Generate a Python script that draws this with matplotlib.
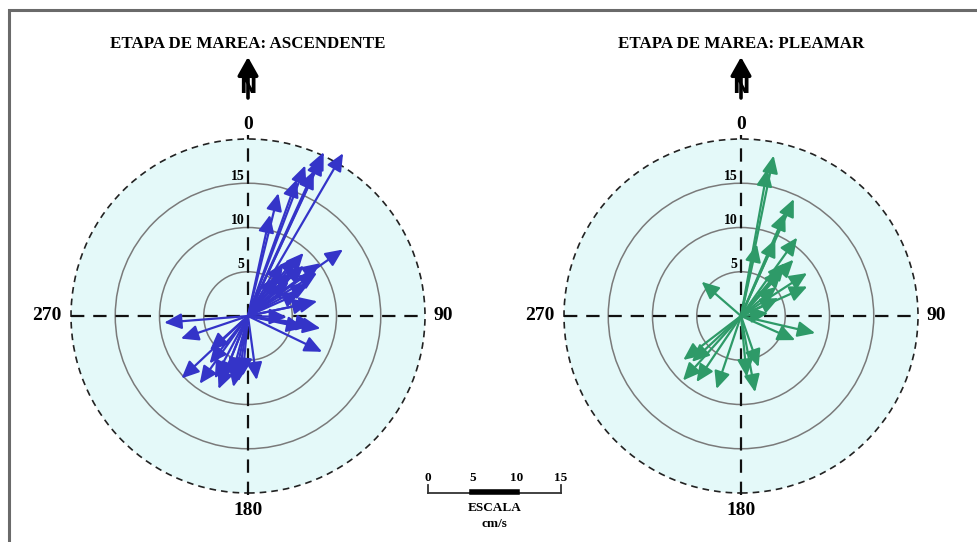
import numpy as np
import matplotlib
matplotlib.use("Agg")
import matplotlib.pyplot as plt
from matplotlib.patches import Circle, Rectangle

# ---------------- data ----------------
titles = ["ETAPA DE MAREA: ASCENDENTE", "ETAPA DE MAREA: PLEAMAR"]
ring_values = [5, 10, 15]
outer_ring = 20
compass_labels = ["0", "90", "180", "270"]
scale_ticks = [0, 5, 10, 15]
scale_title = "ESCALA"
scale_units = "cm/s"

# direction (deg from N, clockwise) and speed (cm/s)
asc_dir = [30.3, 24.8, 25.0, 24.4, 20.8, 19.7, 13.9, 12.3,
           55.0, 41.4, 39.4, 53.8, 33.8, 58.0, 78.0, 48.0, 45.0, 62.0, 36.0, 50.0, 66.0,
           99.7, 97.8, 115.8, 91.5, 78.0, 102.0,
           265.5, 251.4, 226.8, 215.5, 228.0, 202.0, 219.0, 191.7, 188.4, 172.3,
           202.0, 195.0, 185.0, 208.0]
asc_spd = [21.3, 20.4, 19.8, 18.0, 18.2, 16.4, 14.3, 11.7,
           13.1, 9.5, 8.7, 10.1, 7.2, 9.2, 8.0, 8.5, 7.0, 7.8, 5.5, 6.0, 6.5,
           8.3, 7.5, 9.3, 4.4, 7.2, 6.5,
           9.5, 8.0, 10.3, 9.4, 5.8, 8.9, 6.9, 8.2, 7.5, 7.3,
           7.8, 7.0, 6.8, 8.0]

plea_dir = [11.5, 10.2, 12.5, 24.3, 23.2, 24.1, 35.6, 43.0, 39.9, 41.5,
            57.0, 66.0, 50.6, 64.6, 311.0, 84.0, 103.0, 114.0,
            232.7, 227.0, 222.0, 214.0, 198.6, 174.6, 169.5, 161.0]
plea_spd = [18.5, 16.9, 8.3, 14.5, 12.7, 9.5, 10.9, 8.7, 7.8, 7.0,
            8.9, 8.2, 5.2, 4.7, 5.9, 3.1, 8.6, 6.7,
            8.2, 7.6, 9.8, 9.0, 8.7, 6.9, 8.75, 6.1]

colors = ["#3434c8", "#2e9a68"]

# ---------------- figure ----------------
W, H = 977, 542
fig = plt.figure(figsize=(W / 100, H / 100), dpi=100)
SERIF = "Liberation Serif"

PX_PER_UNIT = 177 / outer_ring
HALF_PX = 200
half_u = HALF_PX / PX_PER_UNIT

# outer frame
fig.patches.append(Rectangle((9 / W, -0.1), 2.0, (H - 10) / H + 0.1,
                             transform=fig.transFigure, fill=False,
                             edgecolor="#6a6a6a", lw=2.2, zorder=0))

centers = [(248, 316), (741, 316)]
datasets = [(asc_dir, asc_spd), (plea_dir, plea_spd)]

for k, ((cx, cy), (dirs, spds)) in enumerate(zip(centers, datasets)):
    ax = fig.add_axes([(cx - HALF_PX) / W, (H - cy - HALF_PX) / H,
                       2 * HALF_PX / W, 2 * HALF_PX / H])
    ax.set_xlim(-half_u, half_u)
    ax.set_ylim(-half_u, half_u)
    ax.axis("off")

    ax.add_patch(Circle((0, 0), outer_ring, facecolor="#e4f9f9",
                        edgecolor="none", zorder=0))
    for r in ring_values:
        ax.add_patch(Circle((0, 0), r, fill=False, edgecolor="#7a7a7a",
                            lw=1.1, zorder=1))
        ax.text(-0.4, r + 0.05, str(r), ha="right", va="bottom",
                fontsize=10, fontweight="bold", family=SERIF, zorder=2)
    ax.add_patch(Circle((0, 0), outer_ring, fill=False, edgecolor="#222222",
                        lw=1.2, ls=(0, (4, 3)), zorder=1))
    ax.plot([0, 0], [-outer_ring - 0.2, outer_ring + 0.4], color="#111111",
            lw=1.6, ls=(0, (6, 4)), zorder=1)
    ax.plot([-outer_ring, outer_ring], [0, 0], color="#111111",
            lw=1.6, ls=(0, (6, 4)), zorder=1)

    # compass labels
    ax.text(0, outer_ring + 0.7, compass_labels[0], ha="center", va="bottom",
            fontsize=14, fontweight="bold", family=SERIF, clip_on=False)
    ax.text(outer_ring + 1.0, 0, compass_labels[1], ha="left", va="center",
            fontsize=14, fontweight="bold", family=SERIF, clip_on=False)
    ax.text(0, -outer_ring - 1.0, compass_labels[2], ha="center", va="top",
            fontsize=14, fontweight="bold", family=SERIF, clip_on=False)
    ax.text(-outer_ring - 1.1, 0, compass_labels[3], ha="right", va="center",
            fontsize=14, fontweight="bold", family=SERIF, clip_on=False)

    # title
    ax.text(0, (cy - 44) / PX_PER_UNIT, titles[k], ha="center", va="center",
            fontsize=12.2, fontweight="bold", family=SERIF, clip_on=False)

    # north symbol
    ax.annotate("", xy=(0, (cy - 57) / PX_PER_UNIT), xytext=(0, (cy - 98) / PX_PER_UNIT),
                arrowprops=dict(arrowstyle="-|>,head_length=0.8,head_width=0.45",
                                lw=2.6, color="black", shrinkA=0, shrinkB=0,
                                mutation_scale=14),
                annotation_clip=False)
    ax.text(0, (cy - 87) / PX_PER_UNIT, "N", ha="center", va="center",
            fontsize=15, fontweight="bold", family="DejaVu Sans",
            color="black", clip_on=False)

    # current vectors
    th = np.deg2rad(np.asarray(dirs))
    sp = np.asarray(spds)
    u = sp * np.sin(th)
    v = sp * np.cos(th)
    for ui, vi in zip(u, v):
        ax.annotate("", xy=(ui, vi), xytext=(0, 0),
                    arrowprops=dict(arrowstyle="-|>,head_length=0.75,head_width=0.34",
                                    lw=1.6, color=colors[k], shrinkA=0, shrinkB=0,
                                    mutation_scale=14),
                    zorder=3, annotation_clip=False)

# ---------------- scale bar ----------------
sx0, sx1, sy0, sy1 = 400, 600, 460, 538
sax = fig.add_axes([sx0 / W, (H - sy1) / H, (sx1 - sx0) / W, (sy1 - sy0) / H])
zero_px = 428
sax.set_xlim((sx0 - zero_px) / PX_PER_UNIT, (sx1 - zero_px) / PX_PER_UNIT)
sax.set_ylim(0, sy1 - sy0)
sax.axis("off")
y_line = sy1 - 493
sax.plot([scale_ticks[0], scale_ticks[-1]], [y_line, y_line], color="#333333", lw=1.3)
sax.plot([scale_ticks[1], scale_ticks[2]], [y_line + 1.5, y_line + 1.5], color="black", lw=4)
for t in (scale_ticks[0], scale_ticks[-1]):
    sax.plot([t, t], [y_line, y_line + 8], color="#333333", lw=1.3)
for t in scale_ticks:
    sax.text(t, sy1 - 478, str(t), ha="center", va="center", fontsize=9.5,
             fontweight="bold", family=SERIF)
mid = (scale_ticks[0] + scale_ticks[-1]) / 2
sax.text(mid, sy1 - 508, scale_title, ha="center", va="center", fontsize=9.5,
         fontweight="bold", family=SERIF)
sax.text(mid, sy1 - 524, scale_units, ha="center", va="center", fontsize=9.5,
         fontweight="bold", family=SERIF)

fig.savefig("out.png", dpi=100)
